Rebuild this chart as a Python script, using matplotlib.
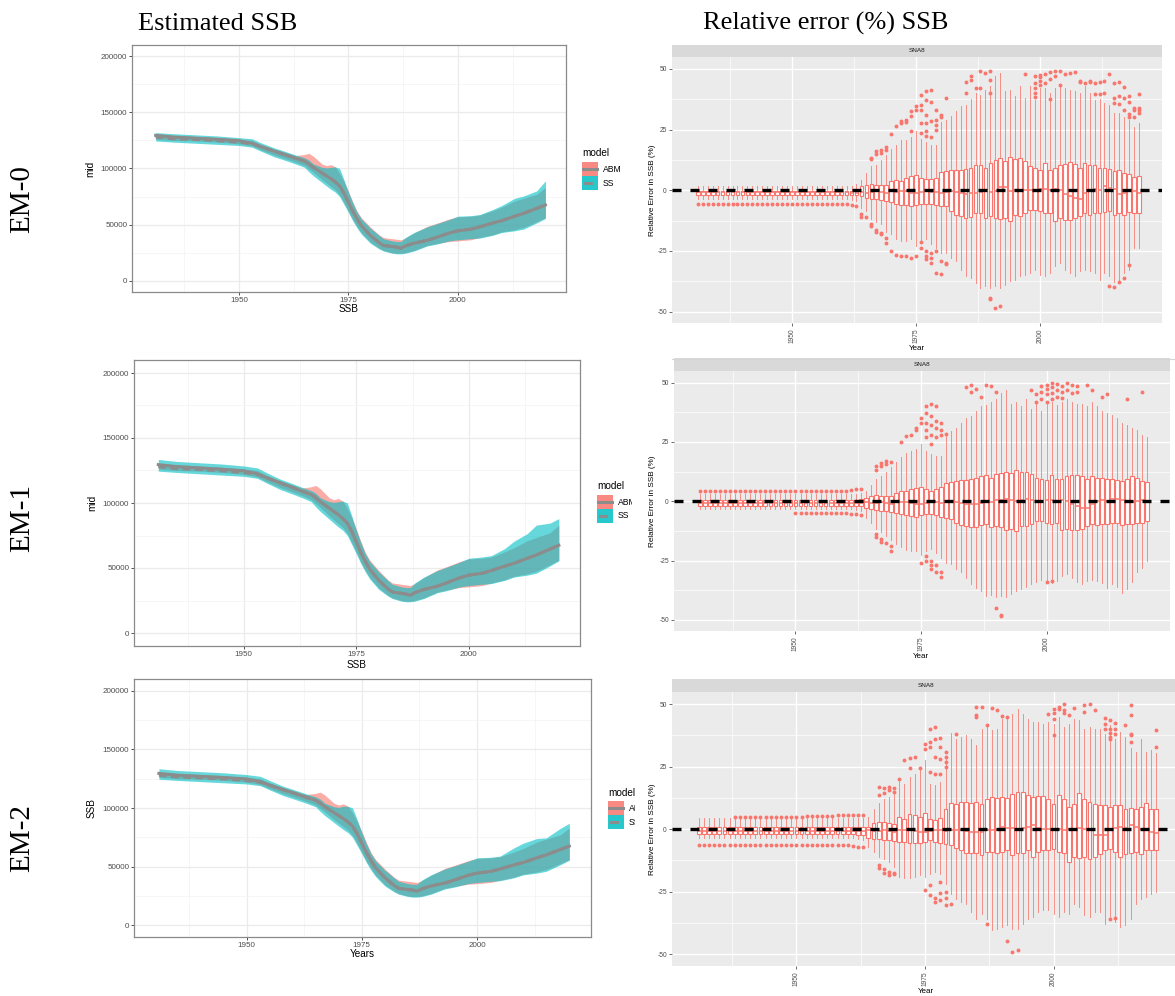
import matplotlib
matplotlib.use("Agg")
import matplotlib.pyplot as plt
from matplotlib.patches import Rectangle
from matplotlib.lines import Line2D
from matplotlib.transforms import Bbox, TransformedBbox

W, H = 1175, 996
plt.rcParams['font.family'] = ['Liberation Sans', 'DejaVu Sans']

# ---------------- Left panels: estimated SSB ----------------
years_L = [1931, 1935, 1940, 1945, 1950, 1953, 1955, 1958, 1960, 1963, 1965, 1966, 1967,
           1969, 1970, 1971, 1972, 1973, 1974, 1975, 1976, 1977, 1978, 1980, 1982, 1983,
           1985, 1986, 1987, 1988, 1990, 1993, 1995, 1998, 2000, 2003, 2005, 2008, 2010,
           2013, 2015, 2018, 2020]
abm_mid = [129500, 128000, 127000, 126000, 124800, 122500, 119500, 115500, 113000, 109000,
           106500, 104000, 101000, 96000, 93500, 91000, 88000, 84500, 78000, 70000, 62000,
           55000, 49000, 40500, 34000, 31500, 30500, 30000, 29000, 31000, 33500, 36000,
           38500, 42500, 44500, 46000, 48000, 51500, 53500, 57500, 60000, 64500, 67500]
ss_mid = [128000, 126500, 125800, 124800, 123500, 122000, 119500, 115500, 113000, 109000,
          106500, 104000, 101000, 96000, 93500, 91000, 88000, 84500, 78000, 70000, 62000,
          55000, 49000, 40500, 34000, 31500, 30500, 30000, 29000, 31000, 33500, 36000,
          38500, 42500, 44500, 46000, 48000, 51500, 53500, 57500, 60000, 64500, 67500]
abm_lo = [126000, 125000, 124500, 123500, 122000, 120000, 116500, 112000, 109500, 105500,
          102500, 99500, 96500, 90000, 87000, 84000, 81000, 76500, 69500, 62000, 54500,
          48000, 42500, 34500, 29000, 27000, 25000, 24500, 24500, 25000, 27000, 31500,
          33000, 35000, 35500, 36500, 38500, 41000, 43500, 45500, 47500, 52500, 56000]
abm_hi = [130500, 129500, 128500, 127500, 126000, 125000, 121500, 117500, 115000, 111500,
          112500, 113500, 111000, 104000, 102500, 103500, 101500, 96000, 88500, 80000, 70500,
          62000, 56000, 48000, 41000, 38500, 37500, 37000, 36500, 38000, 42500, 48500,
          51000, 55000, 57000, 57500, 58500, 62500, 65500, 71000, 73500, 77000, 83000]
ss_lo = [124500, 123500, 122500, 121500, 120500, 119000, 115500, 110500, 108000, 104000,
         101000, 97000, 93500, 87500, 84500, 81500, 79000, 75000, 68000, 61000, 53500,
         47000, 41500, 33500, 28500, 26500, 24500, 24000, 24000, 24500, 26500, 31000,
         32500, 35500, 36500, 37500, 38000, 40500, 43000, 44500, 46000, 51500, 55500]
ss_hi_em0 = [132000, 131000, 130000, 129000, 127500, 126500, 123000, 118500, 116000, 112000,
             109500, 107500, 104000, 101000, 100500, 101000, 101500, 100000, 90000, 79000,
             69500, 61000, 55000, 47000, 40500, 37500, 35500, 35000, 35000, 38500, 43000,
             48000, 50500, 54500, 57500, 58000, 59000, 63500, 67000, 73500, 75500, 80000, 89000]
ss_hi_em1 = [133500, 132000, 131000, 130000, 128500, 127000, 123500, 118500, 116000, 112000,
             109500, 107500, 104000, 101000, 100500, 101000, 101500, 100000, 90000, 79000,
             69500, 61000, 55000, 47000, 40500, 37500, 35500, 35000, 35000, 38500, 43000,
             48000, 50500, 54500, 57500, 58500, 59500, 65000, 70500, 76500, 83000, 84500, 88000]
ss_hi_em2 = [133500, 132000, 131000, 130000, 128500, 127000, 123500, 118500, 116000, 112000,
             109500, 107500, 104000, 101000, 100500, 101500, 101500, 100000, 90000, 79000,
             69500, 61000, 55000, 47000, 40500, 37500, 35500, 35000, 35000, 38500, 43000,
             48000, 50500, 54500, 57500, 58000, 59000, 66000, 70000, 74000, 74500, 82500, 87000]

# ---------------- Right panels: relative error boxplots ----------------
years_box = list(range(1931, 2021))

q1_em0 = [-1.8, -1.8, -1.8, -1.8, -1.8, -1.8, -1.8, -1.8, -1.8, -1.8,
          -1.8, -1.8, -1.8, -1.8, -1.8, -1.8, -1.8, -1.8, -1.8, -1.8,
          -1.8, -1.8, -1.8, -1.8, -1.8, -1.8, -1.8, -1.8, -1.8, -1.8,
          -1.8, -1.9, -2.0,
          -2.5, -3.2, -3.5, -3.8, -4.2, -4.5, -5.0,
          -5.5, -6.0, -6.0, -6.6, -6.0, -5.8, -5.5, -5.8, -6.0, -6.3,
          -6.6, -8.7, -10.0, -10.7, -11.4, -11.0, -9.3, -9.5, -11.4, -10.7,
          -11.4, -12.0, -11.4, -12.8, -10.0, -10.7, -9.3, -8.0, -8.0, -8.7,
          -9.3, -9.3, -12.8, -11.4, -12.1, -12.1, -11.4, -10.7, -9.3, -10.0,
          -9.3, -9.3, -9.0, -8.7, -10.0, -9.3, -10.0, -9.0, -9.5, -9.5]
med_em0 = [-0.9, -0.9, -0.9, -0.9, -0.9, -0.9, -0.9, -0.9, -0.9, -0.9,
           -0.9, -0.9, -0.9, -0.9, -0.9, -0.9, -0.9, -0.9, -0.9, -0.9,
           -0.9, -0.9, -0.9, -0.9, -0.9, -0.9, -0.9, -0.9, -0.9, -0.9,
           -0.9, -1.0, -1.0,
           -0.8, -1.0, -0.8, -0.5, -0.8, -1.0, -0.5,
           -0.7, -0.5, -0.5, -1.0, -1.0, -0.8, -0.5, -0.6, -0.8, -1.0,
           -0.8, -0.5, -0.8, -1.0, -1.5, -1.2, -1.0, -0.8, -0.5, -0.8,
           -0.3, 1.5, 1.2, -0.5, 0.0, 0.2, 0.0, 0.0, 0.2, 0.5,
           0.5, 0.3, 0.5, 0.0, -1.5, -2.5, -3.0, -3.5, -1.0, 0.0,
           0.5, 0.0, 1.8, 1.0, 0.5, -1.5, -1.0, 0.0, -0.5, -1.0]
q3_em0 = [-0.3, -0.3, -0.3, -0.3, -0.3, -0.3, -0.3, -0.3, -0.3, -0.3,
          -0.3, -0.3, -0.3, -0.3, -0.3, -0.3, -0.3, -0.3, -0.3, -0.3,
          -0.3, -0.3, -0.3, -0.3, -0.3, -0.3, -0.3, -0.3, -0.3, -0.3,
          -0.3, -0.2, 0.0,
          1.6, 2.3, 2.5, 2.3, 2.2, 2.0, 3.7,
          4.4, 4.0, 5.0, 5.8, 6.2, 5.0, 4.5, 4.8, 5.0, 7.5,
          8.0, 8.4, 8.2, 8.5, 8.8, 9.2, 10.2, 10.6, 9.2, 11.3,
          12.6, 13.3, 12.0, 13.7, 12.9, 13.3, 12.0, 9.9, 9.2, 8.5,
          11.3, 8.5, 9.2, 10.3, 10.9, 11.5, 11.0, 9.2, 11.3, 10.6,
          10.2, 9.2, 9.2, 8.8, 7.8, 8.2, 7.1, 6.5, 5.5, 6.0]
lo_em0 = [-3.8, -3.8, -3.8, -3.8, -3.8, -3.8, -3.8, -3.8, -3.8, -3.8,
          -3.8, -3.8, -3.8, -3.8, -3.8, -3.8, -3.8, -3.8, -3.8, -3.8,
          -3.8, -3.8, -3.8, -3.8, -3.8, -3.8, -3.8, -3.8, -3.8, -3.8,
          -3.8, -4.0, -4.5,
          -7.3, -8.7, -12.0, -13.0, -14.0, -17.0, -18.0,
          -20.0, -21.0, -21.0, -20.0, -23.0, -21.0, -20.0, -22.0, -24.0, -26.0,
          -25.8, -28.0, -29.0, -32.7, -35.4, -36.0, -38.2, -40.2, -39.6, -40.2,
          -39.6, -40.2, -38.9, -37.5, -36.8, -35.5, -34.8, -34.0, -32.7, -34.8,
          -35.5, -34.2, -31.3, -29.9, -32.7, -34.0, -35.4, -33.3, -32.7, -33.3,
          -34.0, -36.8, -34.0, -35.4, -38.0, -36.8, -34.0, -32.7, -23.8, -24.0]
hi_em0 = [1.6, 1.6, 1.6, 1.6, 1.6, 1.6, 1.6, 1.6, 1.6, 1.6,
          1.6, 1.6, 1.6, 1.6, 1.6, 1.6, 1.6, 1.6, 1.6, 1.6,
          1.6, 1.6, 1.6, 1.6, 1.6, 1.6, 1.6, 1.6, 1.6, 1.6,
          1.6, 1.8, 2.5,
          4.4, 7.0, 10.0, 10.6, 12.6, 14.7, 16.8,
          18.8, 20.9, 20.9, 22.0, 24.3, 21.0, 20.0, 18.8, 18.5, 28.0,
          29.0, 30.5, 32.5, 34.6, 35.3, 37.4, 40.0, 39.4, 41.5, 42.9,
          47.0, 48.4, 40.8, 41.5, 38.8, 43.0, 38.0, 42.9, 37.0, 42.0,
          42.0, 40.0, 42.0, 43.0, 42.0, 41.5, 40.8, 40.0, 42.9, 40.0,
          37.0, 37.4, 36.0, 35.0, 32.0, 32.0, 30.0, 29.0, 26.0, 27.5]
out_x_em0 = [1931, 1932, 1933, 1934, 1935, 1936, 1937, 1938, 1939, 1940, 1941, 1942, 1943,
             1944, 1945, 1946, 1947, 1948, 1949, 1950, 1951, 1952, 1953, 1954, 1955, 1956,
             1957, 1958, 1959, 1960, 1961, 1962, 1963,
             1964, 1964, 1965, 1966, 1966, 1966, 1966, 1967, 1967, 1967, 1967, 1968, 1968,
             1968, 1968, 1969, 1969, 1969, 1969, 1970, 1970, 1971, 1971, 1972, 1972, 1972,
             1973, 1973, 1973, 1974, 1974, 1974, 1974, 1975, 1975, 1975,
             1976, 1976, 1976, 1976, 1976, 1976, 1976, 1977, 1977, 1977, 1977, 1977, 1977,
             1977, 1977, 1977, 1978, 1978, 1978, 1978, 1978, 1978, 1978, 1979, 1979, 1979,
             1979, 1979, 1979, 1980, 1980, 1980, 1980, 1981, 1981, 1981,
             1985, 1985, 1986, 1986, 1987, 1988, 1988, 1989, 1990, 1990, 1990, 1990, 1990,
             1991, 1992, 1997, 1999, 1999, 1999, 1999, 1999, 2000, 2000, 2000, 2000, 2001,
             2001, 2002, 2002, 2002, 2003, 2003, 2004, 2004, 2005, 2006, 2007, 2008, 2008,
             2009, 2010, 2010, 2011, 2011, 2012, 2012, 2013, 2013, 2014, 2014, 2015, 2015,
             2015, 2015, 2016, 2016, 2016, 2016, 2017, 2017, 2017, 2017, 2018, 2018, 2018,
             2018, 2018, 2019, 2019, 2019, 2020, 2020, 2020, 2020]
out_y_em0 = [-5.5, -5.5, -5.5, -5.5, -5.5, -5.5, -5.5, -5.5, -5.5, -5.5, -5.5, -5.5, -5.5,
             -5.5, -5.5, -5.5, -5.5, -5.5, -5.5, -5.5, -5.5, -5.5, -5.5, -5.5, -5.5, -5.5,
             -5.5, -5.5, -5.5, -5.5, -5.8, -6.0, -6.5,
             -9.6, -11.0, -11.0, 13.3, 12.8, -14.0, -14.7, 16.0, 15.0, -16.5, -17.0, 16.5, 15.5,
             -17.5, -18.0, 18.0, 16.5, -21.7, -19.5, 23.0, -25.0, 26.4, -26.5, 27.6, 28.5, -27.0,
             29.0, 28.0, -27.2, 32.5, 30.5, 24.3, -27.9, 34.6, 33.0, -27.0,
             39.4, 35.3, 33.0, 27.7, 23.5, -21.4, -23.8, 40.8, 37.0, 31.0, 27.7, 24.3, 22.5,
             -25.0, -27.0, -28.5, 41.5, 36.5, 28.5, 22.0, -26.0, -28.0, -30.0, 33.0, 29.0, 27.0,
             25.0, -25.0, -34.2, 31.0, 30.0, -29.0, -34.5, 38.0, -30.0, -30.5,
             40.0, 44.5, 45.5, 47.0, 42.0, 49.0, 42.0, 48.5, 49.0, 45.5, 40.0, -44.4, -45.0,
             -48.5, -47.8, 47.7, 47.0, 44.0, 42.0, 40.0, 38.5, 47.5, 46.5, 45.0, 43.5, 47.7,
             44.0, 48.8, 46.0, 37.4, 49.3, 47.0, 49.2, 43.5, 48.0, 48.5, 48.6, 45.0, 44.5,
             44.0, 45.0, 44.5, 39.5, 44.0, 44.7, 39.5, 45.0, 40.0, 48.0, -39.5, 44.0, 38.0,
             36.0, -40.0, 44.5, 39.0, 35.5, -38.0, 42.5, 38.0, 33.0, -36.0, 39.0, 36.5, 31.5,
             30.0, -31.0, 34.0, 33.0, 30.0, 39.5, 34.0, 33.0, 32.0]

q1_em1 = [-1.8, -1.8, -1.8, -1.8, -1.8, -1.8, -1.8, -1.8, -1.8, -1.8,
          -1.8, -1.8, -1.8, -1.8, -1.8, -1.8, -1.8, -1.8, -1.8, -1.8,
          -1.8, -1.8, -1.8, -1.8, -1.8, -1.8, -1.8, -1.8, -1.8, -1.8,
          -1.8, -1.9, -2.0,
          -2.8, -3.3, -3.6, -4.0, -4.3, -4.6, -5.0,
          -5.3, -5.8, -6.2, -6.5, -6.0, -5.5, -5.5, -6.0, -6.5, -7.0,
          -7.5, -9.0, -10.0, -10.5, -11.0, -11.0, -10.0, -9.5, -11.0, -10.5,
          -11.0, -12.0, -11.5, -12.5, -10.5, -10.5, -9.5, -8.5, -8.5, -9.0,
          -9.5, -9.0, -12.0, -11.5, -12.0, -12.0, -11.5, -10.5, -9.5, -10.0,
          -9.5, -9.5, -9.0, -9.0, -10.0, -9.5, -9.5, -9.0, -9.0, -8.5]
med_em1 = [-0.8, -0.8, -0.8, -0.8, -0.8, -0.8, -0.8, -0.8, -0.8, -0.8,
           -0.8, -0.8, -0.8, -0.8, -0.8, -0.8, -0.8, -0.8, -0.8, -0.8,
           -0.8, -0.8, -0.8, -0.8, -0.8, -0.8, -0.8, -0.8, -0.8, -0.8,
           -0.8, -0.8, -0.8,
           -0.5, -0.8, -0.8, -0.5, -0.8, -1.0, -0.5,
           -0.5, -0.5, -0.8, -1.0, -1.0, -0.8, -0.5, -0.5, -0.8, -0.5,
           -0.5, -0.5, -0.8, -1.0, -1.2, -1.0, -0.8, -0.5, -0.5, 0.5,
           0.5, 1.0, 0.5, 0.0, 0.5, 1.0, 0.5, 0.0, 0.0, 0.5,
           0.5, 0.0, 0.5, 0.0, -1.0, -2.0, -3.0, -3.0, -1.0, 0.0,
           0.5, 0.0, 1.0, 1.0, 0.5, 0.0, -0.5, 0.0, 0.5, 0.0]
q3_em1 = [0.5, 0.5, 0.5, 0.5, 0.5, 0.5, 0.5, 0.5, 0.5, 0.5,
          0.5, 0.5, 0.5, 0.5, 0.5, 0.5, 0.5, 0.5, 0.5, 0.5,
          0.5, 0.5, 0.5, 0.5, 0.5, 0.5, 0.5, 0.5, 0.5, 0.5,
          0.5, 0.6, 0.8,
          1.5, 2.2, 2.5, 2.3, 2.2, 2.2, 3.5,
          4.2, 4.5, 5.0, 5.5, 6.0, 5.0, 4.5, 5.0, 6.0, 7.5,
          8.0, 8.5, 9.0, 9.0, 9.5, 10.0, 10.5, 11.0, 10.0, 11.5,
          12.0, 12.5, 12.0, 13.0, 12.5, 12.5, 11.5, 10.0, 9.5, 9.0,
          11.0, 9.5, 9.5, 10.5, 11.0, 11.0, 10.5, 9.5, 10.5, 10.0,
          10.0, 9.5, 9.5, 9.0, 8.5, 9.5, 10.5, 10.0, 8.5, 8.0]
lo_em1 = [-3.2, -3.2, -3.2, -3.2, -3.2, -3.2, -3.2, -3.2, -3.2, -3.2,
          -3.2, -3.2, -3.2, -3.2, -3.2, -3.2, -3.2, -3.2, -3.2, -3.2,
          -3.2, -3.2, -3.2, -3.2, -3.2, -3.2, -3.2, -3.2, -3.2, -3.2,
          -3.2, -3.5, -4.0,
          -7.0, -9.0, -11.5, -13.0, -14.5, -16.5, -18.0,
          -19.5, -20.5, -21.0, -21.0, -22.5, -21.0, -20.0, -22.0, -24.0, -26.0,
          -26.5, -28.5, -30.0, -32.5, -35.0, -36.5, -38.0, -40.0, -39.5, -40.5,
          -40.0, -40.5, -39.0, -38.0, -37.0, -36.0, -35.0, -34.0, -33.0, -33.5,
          -34.5, -33.5, -31.5, -30.5, -32.5, -34.0, -35.0, -33.5, -33.0, -33.5,
          -34.5, -36.5, -35.0, -36.0, -38.5, -37.0, -34.0, -30.0, -28.0, -25.0]
hi_em1 = [3.0, 3.0, 3.0, 3.0, 3.0, 3.0, 3.0, 3.0, 3.0, 3.0,
          3.0, 3.0, 3.0, 3.0, 3.0, 3.0, 3.0, 3.0, 3.0, 3.0,
          3.0, 3.0, 3.0, 3.0, 3.0, 3.0, 3.0, 3.0, 3.0, 3.0,
          3.0, 3.2, 3.5,
          4.5, 7.0, 9.5, 10.5, 12.5, 14.5, 16.5,
          18.5, 20.5, 21.0, 22.0, 24.0, 21.0, 20.0, 19.0, 19.0, 28.0,
          29.5, 31.0, 33.0, 35.0, 36.0, 38.0, 40.0, 40.5, 42.0, 43.0,
          45.5, 47.0, 41.0, 42.0, 40.0, 43.0, 39.0, 42.0, 38.0, 41.0,
          42.0, 40.5, 42.0, 43.0, 42.0, 41.0, 41.0, 40.0, 42.0, 40.0,
          38.0, 37.0, 36.5, 35.0, 33.0, 32.0, 31.0, 30.0, 28.0, 27.0]
out_x_em1 = [1931, 1932, 1933, 1934, 1935, 1936, 1937, 1938, 1939, 1940, 1941, 1942, 1943,
             1944, 1945, 1946, 1947, 1948, 1949, 1950, 1951, 1952, 1953, 1954, 1955, 1956,
             1957, 1958, 1959, 1960, 1961, 1962, 1963,
             1950, 1951, 1952, 1953, 1954, 1955, 1956, 1957, 1958, 1959, 1960, 1961, 1962, 1963,
             1966, 1966, 1966, 1966, 1967, 1967, 1967, 1967, 1968, 1968, 1968, 1969, 1969, 1969,
             1971, 1972, 1973, 1974, 1974, 1975, 1975, 1975, 1976, 1976, 1976, 1976, 1976, 1976,
             1976, 1977, 1977, 1977, 1977, 1977, 1977, 1977, 1977, 1978, 1978, 1978, 1978, 1978,
             1978, 1979, 1979, 1979, 1979, 1979, 1980,
             1984, 1985, 1985, 1986, 1987, 1988, 1989, 1990, 1990, 1991, 1991,
             1997, 1998, 1998, 1999, 1999, 1999, 2000, 2000, 2000, 2000, 2000, 2001, 2001, 2001,
             2001, 2001, 2002, 2002, 2002, 2003, 2003, 2003, 2004, 2004, 2005, 2005, 2006, 2006,
             2008, 2009, 2011, 2012, 2016, 2019]
out_y_em1 = [4.5, 4.5, 4.5, 4.5, 4.5, 4.5, 4.5, 4.5, 4.5, 4.5, 4.5, 4.5, 4.5,
             4.5, 4.5, 4.5, 4.5, 4.5, 4.5, 4.5, 4.5, 4.5, 4.5, 4.5, 4.5, 4.5,
             4.5, 4.5, 4.5, 4.5, 4.8, 5.0, 5.2,
             -5.0, -5.0, -5.0, -5.0, -5.0, -5.0, -5.0, -5.0, -5.0, -5.0, -5.0, -5.2, -5.5, -5.8,
             13.0, 15.0, -14.0, -15.0, 16.0, 15.0, -16.0, -17.0, 17.0, 15.5, -17.5, 16.5, -19.0, -21.0,
             25.0, 27.5, 28.0, 31.0, 30.0, 33.0, 35.0, -26.0, 40.0, 37.0, 33.0, 30.0, 27.0, -23.0,
             -25.0, 41.0, 36.0, 32.0, 28.0, 24.0, -25.0, -27.0, -28.5, 40.0, 34.0, 31.0, 27.0, -27.0,
             -30.0, 33.0, 30.0, 28.0, -30.0, -32.0, 28.5,
             48.0, 49.0, 46.0, 47.5, 44.0, 49.0, 48.5, 46.0, -45.0, -47.8, -48.3,
             47.0, 45.0, 42.0, 48.5, 46.0, 43.0, 49.0, 47.5, 45.0, 42.0, -34.0, 50.0, 48.0, 45.5,
             43.0, -33.5, 49.5, 47.0, 44.0, 48.5, 46.0, 43.5, 49.8, 47.0, 49.0, 45.5, 48.5, 46.0,
             49.0, 47.0, 44.0, 45.0, 43.0, 46.0]

q1_em2 = [-2.0, -2.0, -2.0, -2.0, -2.0, -2.0, -2.0, -2.0, -2.0, -2.0,
          -2.0, -2.0, -2.0, -2.0, -2.0, -2.0, -2.0, -2.0, -2.0, -2.0,
          -2.0, -2.0, -2.0, -2.0, -2.0, -2.0, -2.0, -2.0, -2.0, -2.0,
          -2.0, -2.2, -2.5,
          -3.7, -4.0, -4.0, -4.2, -4.5, -4.8, -5.0,
          -5.2, -5.5, -5.5, -5.5, -5.0, -4.5, -5.0, -5.5, -6.0, -6.4,
          -7.5, -8.5, -9.7, -9.5, -9.7, -10.5, -9.0, -9.0, -9.5, -9.0,
          -8.5, -10.5, -9.7, -9.7, -8.5, -11.0, -9.0, -8.4, -8.5, -8.0,
          -9.0, -9.5, -13.0, -11.0, -11.7, -11.0, -12.0, -11.0, -10.0, -8.4,
          -8.0, -9.0, -11.0, -10.0, -9.5, -9.0, -10.0, -8.5, -8.4, -8.4]
med_em2 = [-0.8, -0.8, -0.8, -0.8, -0.8, -0.8, -0.8, -0.8, -0.8, -0.8,
           -0.8, -0.8, -0.8, -0.8, -0.8, -0.8, -0.8, -0.8, -0.8, -0.8,
           -0.8, -0.8, -0.8, -0.8, -0.8, -0.8, -0.8, -0.8, -0.8, -0.8,
           -0.8, -0.8, -0.8,
           -0.5, -0.8, -0.8, -0.5, -0.8, -1.0, -0.5,
           -0.5, -0.5, -0.8, -1.0, -1.0, -0.8, -0.5, -0.5, -0.8, -0.5,
           -0.5, -0.5, -0.8, -1.0, -1.0, -1.2, -0.5, -0.5, -0.5, 1.0,
           0.5, 0.5, 0.0, 0.5, 1.0, 1.5, 0.5, 0.0, 0.0, 0.0,
           0.0, -0.5, 0.0, 0.0, 0.5, 0.0, 0.0, -2.3, -2.3, -2.3,
           0.0, 0.5, 1.0, 0.5, 1.5, 1.0, 0.0, -0.5, -1.0, -1.5]
q3_em2 = [1.0, 1.0, 1.0, 1.0, 1.0, 1.0, 1.0, 1.0, 1.0, 1.0,
          1.0, 1.0, 1.0, 1.0, 1.0, 1.0, 1.0, 1.0, 1.0, 1.0,
          1.0, 1.0, 1.0, 1.0, 1.0, 1.0, 1.0, 1.0, 1.0, 1.0,
          1.0, 1.0, 1.0,
          1.0, 2.5, 3.0, 2.8, 2.5, 2.2, 5.0,
          4.0, 6.0, 5.5, 5.0, 6.4, 4.0, 3.5, 4.5, 8.0, 10.4,
          10.0, 11.0, 11.0, 10.5, 11.0, 10.0, 12.0, 13.0, 12.5, 13.0,
          12.5, 14.0, 15.0, 15.0, 13.5, 13.0, 13.3, 13.3, 12.0, 10.0,
          13.5, 12.0, 9.0, 10.0, 14.4, 12.0, 11.0, 10.0, 9.5, 9.7,
          9.0, 9.5, 9.5, 8.0, 8.5, 8.0, 9.0, 10.4, 8.0, 8.0]
lo_em2 = [-3.5, -3.5, -3.5, -3.5, -3.5, -3.5, -3.5, -3.5, -3.5, -3.5,
          -3.5, -3.5, -3.5, -3.5, -3.5, -3.5, -3.5, -3.5, -3.5, -3.5,
          -3.5, -3.5, -3.5, -3.5, -3.5, -3.5, -3.5, -3.5, -3.5, -3.5,
          -3.5, -3.8, -4.2,
          -7.0, -9.0, -11.0, -12.0, -13.0, -15.0, -19.0,
          -19.5, -19.5, -19.0, -18.5, -19.0, -18.0, -17.0, -18.0, -22.0, -26.0,
          -28.0, -29.0, -29.8, -33.0, -35.8, -34.0, -36.0, -40.5, -40.0, -39.0,
          -38.5, -40.0, -39.8, -38.0, -36.0, -35.0, -33.0, -32.5, -32.5, -34.0,
          -35.0, -33.0, -34.0, -30.0, -31.0, -34.5, -35.0, -33.0, -33.0, -37.8,
          -36.0, -37.0, -39.0, -38.5, -36.0, -30.0, -28.0, -27.0, -26.0, -25.0]
hi_em2 = [4.4, 4.4, 4.4, 4.4, 4.4, 4.4, 4.4, 4.4, 4.4, 4.4,
          4.4, 4.4, 4.4, 4.4, 4.4, 4.4, 4.4, 4.4, 4.4, 4.4,
          4.4, 4.4, 4.4, 4.4, 4.4, 4.4, 4.4, 4.4, 4.4, 4.4,
          4.4, 4.4, 4.4,
          5.0, 8.0, 10.5, 12.0, 13.0, 14.0, 20.4,
          18.0, 21.0, 22.0, 24.0, 27.8, 18.0, 17.5, 19.0, 29.0, 38.5,
          36.0, 37.0, 37.8, 36.0, 33.8, 40.0, 41.0, 39.8, 40.0, 44.0,
          44.0, 46.0, 47.9, 46.0, 44.0, 43.0, 43.0, 42.0, 43.0, 42.0,
          45.0, 41.0, 42.0, 44.0, 43.8, 40.0, 41.0, 40.0, 40.0, 38.0,
          41.8, 36.0, 39.0, 37.0, 32.5, 31.0, 36.0, 31.0, 31.8, 30.5]
out_x_em2 = [1931, 1932, 1933, 1934, 1935, 1936, 1937, 1938, 1939, 1940, 1941, 1942, 1943,
             1944, 1945, 1946, 1947, 1948, 1949, 1950, 1951, 1952, 1953, 1954, 1955, 1956,
             1957, 1958, 1959, 1960, 1961, 1962, 1963,
             1938, 1939, 1940, 1941, 1942, 1943, 1944, 1945, 1946, 1947, 1948, 1949, 1950,
             1951, 1952, 1953, 1954, 1955, 1956, 1957, 1958, 1959, 1960, 1961, 1962, 1963,
             1966, 1966, 1966, 1966, 1967, 1967, 1967, 1967, 1968, 1968, 1968, 1968, 1969, 1969,
             1969, 1969, 1970, 1971, 1972, 1972, 1973, 1974, 1975, 1975, 1975, 1976, 1976, 1976,
             1976, 1976, 1976, 1977, 1977, 1977, 1977, 1977, 1977, 1978, 1978, 1978, 1978, 1978,
             1978, 1978, 1979, 1979, 1979, 1979, 1979, 1979, 1979, 1980, 1981,
             1985, 1985, 1985, 1986, 1987, 1987, 1988, 1989, 1990, 1991, 1991, 1992, 1993,
             1999, 2000, 2000, 2000, 2000, 2001, 2001, 2002, 2002, 2002, 2003, 2004, 2006, 2006,
             2007, 2008, 2010, 2010, 2010, 2011, 2011, 2011, 2011, 2011, 2011, 2012, 2012, 2012,
             2012, 2014, 2015, 2015, 2015, 2015, 2015, 2020, 2020]
out_y_em2 = [-6.5, -6.5, -6.5, -6.5, -6.5, -6.5, -6.5, -6.5, -6.5, -6.5, -6.5, -6.5, -6.5,
             -6.5, -6.5, -6.5, -6.5, -6.5, -6.5, -6.5, -6.5, -6.5, -6.5, -6.5, -6.5, -6.5,
             -6.5, -6.5, -6.5, -6.5, -6.8, -7.0, -7.3,
             5.0, 5.0, 5.0, 5.0, 5.0, 5.0, 5.0, 5.0, 5.0, 5.0, 5.0, 5.0, 5.0,
             5.0, 5.2, 5.2, 5.2, 5.4, 5.4, 5.4, 5.5, 5.5, 5.6, 5.6, 5.8, 5.8,
             13.5, 16.8, -14.5, -15.5, 16.5, 14.5, -16.0, -17.5, 17.0, 15.5, -17.0, -18.4, 16.5,
             15.0, -18.0, -17.5, 20.0, 27.5, 28.5, 24.5, 29.0, 24.5, 34.0, 32.0, -24.5, 40.0,
             35.0, 33.0, 23.0, -26.5, -22.5, 40.8, 36.0, 29.0, 22.0, -27.5, -29.0, 36.5, 33.0,
             28.0, 22.0, -21.0, -25.5, -28.5, 31.0, 29.0, 27.0, 25.0, -25.0, -27.5, -30.5, -29.8,
             38.0,
             48.8, 45.8, 44.8, 49.0, 41.8, -38.0, 48.5, 47.8, 45.2, 45.0, -44.8, -49.0, -48.3,
             46.0, 47.9, 46.5, 44.0, 37.8, 49.0, 48.0, 50.0, 47.8, 46.5, 45.5, 48.5, 49.5, 47.0,
             50.0, 47.5, 44.5, 42.0, 40.0, 43.5, 40.0, 38.5, 37.0, 36.0, -35.8, 42.5, 40.0, 38.0,
             -35.5, 41.5, 49.8, 45.8, 38.0, 37.5, 35.0, 39.8, 33.0]

left_yticks = [0, 50000, 100000, 150000, 200000]
left_xticks = [1950, 1975, 2000]
right_yticks = [-50, -25, 0, 25, 50]
right_xticks = [1950, 1975, 2000]

col_titles = ["Estimated SSB", "Relative error (%) SSB"]
row_labels = ["EM-0", "EM-1", "EM-2"]
legend_labels = ["ABM", "SS"]

SAL = "#F8766D"
CYA = "#00BFC4"
MIDC = "#8C8C8C"

fig = plt.figure(figsize=(W / 100, H / 100), dpi=100)


def fx(x):
    return x / W


def fy(y):
    return 1 - y / H


def add_ax(l, t, r, b):
    return fig.add_axes([l / W, 1 - b / H, (r - l) / W, (b - t) / H])


left_geo = [(132, 45, 566, 292), (134, 360, 580, 646), (134, 679, 591, 937)]
left_ylab = ["mid", "mid", "SSB"]
left_xlab = ["SSB", "SSB", "Years"]
left_ylab_x = [90, 92, 92]
left_xlab_y = [309, 665, 954]
left_leg = [(582, 153, 162), (597, 486, 495), (608, 793, 801)]
left_clip = [None, 632, 635]
ss_hi_rows = [ss_hi_em0, ss_hi_em1, ss_hi_em2]

for i in range(3):
    l, t, r, b = left_geo[i]
    ax = add_ax(l, t, r, b)
    ax.set_xlim(1925.6, 2024.7)
    ax.set_ylim(-10000, 210000)
    ax.set_xticks(left_xticks)
    ax.set_xticklabels([str(v) for v in left_xticks])
    ax.set_xticks([1937.5, 1962.5, 1987.5, 2012.5], minor=True)
    ax.set_yticks(left_yticks)
    ax.set_yticklabels([str(v) for v in left_yticks])
    ax.set_yticks([25000, 75000, 125000, 175000], minor=True)
    ax.grid(True, which='major', color='#EBEBEB', lw=0.9)
    ax.grid(True, which='minor', color='#F3F3F3', lw=0.5)
    ax.set_axisbelow(True)
    ax.tick_params(which='major', length=2.2, width=0.6, color='#333333', labelsize=5.8,
                   labelcolor='#4D4D4D', pad=1.2)
    ax.tick_params(which='minor', length=0)
    for s in ax.spines.values():
        s.set_color('#8A8A8A')
        s.set_linewidth(0.9)
    ax.fill_between(years_L, abm_lo, abm_hi, color=SAL, alpha=0.6, lw=0)
    ax.fill_between(years_L, ss_lo, ss_hi_rows[i], color=CYA, alpha=0.6, lw=0)
    ax.plot(years_L, ss_mid, color=MIDC, lw=2.2, ls=(0, (2.5, 1.5)))
    ax.plot(years_L, abm_mid, color=MIDC, lw=2.2)
    fig.text(fx(left_ylab_x[i]), fy((t + b) / 2), left_ylab[i], rotation=90, fontsize=7.2,
             ha='center', va='center')
    fig.text(fx((l + r) / 2), fy(left_xlab_y[i]), left_xlab[i], fontsize=7.2,
             ha='center', va='center')
    # legend
    lx, ty, kt = left_leg[i]
    cb = None
    if left_clip[i] is not None:
        cb = TransformedBbox(Bbox.from_extents(0, 0, left_clip[i] / W, 1), fig.transFigure)
    texts = [fig.text(fx(lx), fy(ty), "model", fontsize=7.2, ha='left', va='center')]
    for k, (lab, col) in enumerate(zip(legend_labels, [SAL, CYA])):
        ktop = kt + k * 14
        fig.add_artist(Rectangle((fx(lx), fy(ktop + 14)), 16 / W, 14 / H,
                                 transform=fig.transFigure, facecolor=col, alpha=0.85, lw=0))
        if k == 0:
            fig.add_artist(Line2D([fx(lx + 1), fx(lx + 15)], [fy(ktop + 7)] * 2,
                                  transform=fig.transFigure, color=MIDC, lw=2.2))
        else:
            fig.add_artist(Line2D([fx(lx + 3), fx(lx + 9)], [fy(ktop + 7)] * 2,
                                  transform=fig.transFigure, color=MIDC, lw=2.2))
        texts.append(fig.text(fx(lx + 21), fy(ktop + 7), lab, fontsize=6.2,
                              ha='left', va='center'))
    if cb is not None:
        for tx in texts:
            tx.set_clip_on(True)
            tx.set_clip_box(cb)

# ---------------- right panels ----------------
right_geo = [(672, 57, 1162, 323, 45), (674, 371, 1170, 631, 358), (672, 692, 1180, 966, 679)]
right_ylab_x = [652, 653, 652]
right_xlab_y = [348, 656, 991]
right_xlab_x = [917, 921, 926]
box_rows = [(q1_em0, med_em0, q3_em0, lo_em0, hi_em0, out_x_em0, out_y_em0),
            (q1_em1, med_em1, q3_em1, lo_em1, hi_em1, out_x_em1, out_y_em1),
            (q1_em2, med_em2, q3_em2, lo_em2, hi_em2, out_x_em2, out_y_em2)]

for i in range(3):
    l, t, r, b, st = right_geo[i]
    ax = add_ax(l, t, r, b)
    sax = add_ax(l, st, r, t)
    sax.set_facecolor('#D9D9D9')
    sax.set_xticks([])
    sax.set_yticks([])
    for s in sax.spines.values():
        s.set_visible(False)
    sax.text(0.5, 0.5, "SNA8", transform=sax.transAxes, fontsize=4.6, color='#1A1A1A',
             ha='center', va='center')
    q1, med, q3, lo, hi, ox, oy = box_rows[i]
    stats = []
    for j, yr in enumerate(years_box):
        fl = [oy[k] for k in range(len(ox)) if ox[k] == yr]
        stats.append(dict(med=med[j], q1=q1[j], q3=q3[j], whislo=lo[j], whishi=hi[j],
                          fliers=fl))
    ax.set_facecolor('#EBEBEB')
    ax.set_xlim(1925.8, 2024.6)
    ax.set_ylim(-54.7, 54.9)
    ax.set_xticks(right_xticks)
    ax.set_xticks([1937.5, 1962.5, 1987.5, 2012.5], minor=True)
    ax.set_yticks(right_yticks)
    ax.set_yticks([-37.5, -12.5, 12.5, 37.5], minor=True)
    ax.grid(True, which='major', color='white', lw=1.0)
    ax.grid(True, which='minor', color='white', lw=0.5)
    ax.set_axisbelow(True)
    ax.bxp(stats, positions=years_box, widths=0.75, patch_artist=True, showcaps=False,
           manage_ticks=False,
           boxprops=dict(facecolor='white', edgecolor=SAL, linewidth=0.8),
           whiskerprops=dict(color=SAL, linewidth=0.7, alpha=0.8),
           medianprops=dict(color=SAL, linewidth=1.1),
           flierprops=dict(marker='o', markerfacecolor=SAL, markeredgecolor='none',
                           markersize=2.8))
    ax.axhline(0, color='black', lw=2.4, ls=(0, (2.7, 2.7)), zorder=10)
    ax.set_xticklabels([str(v) for v in right_xticks], rotation=90)
    ax.set_yticklabels([str(v) for v in right_yticks])
    ax.tick_params(which='major', length=2.2, width=0.5, color='#333333', labelsize=4.8,
                   labelcolor='#4D4D4D', pad=1.5)
    ax.tick_params(which='minor', length=0)
    for s in ax.spines.values():
        s.set_visible(False)
    fig.text(fx(right_ylab_x[i]), fy((t + b) / 2), "Relative Error in SSB (%)", rotation=90,
             fontsize=5.9, ha='center', va='center')
    fig.text(fx(right_xlab_x[i]), fy(right_xlab_y[i]), "Year", fontsize=5.8,
             ha='center', va='center')

# thin line under first right panel
fig.add_artist(Line2D([fx(672), fx(1175)], [fy(359)] * 2, transform=fig.transFigure,
                      color='#D5D5D5', lw=0.8))

# column titles and row labels
fig.text(fx(138), fy(29.5), col_titles[0], fontsize=19, family='Liberation Serif',
         ha='left', va='baseline')
fig.text(fx(703), fy(29.5), col_titles[1], fontsize=19, family='Liberation Serif',
         ha='left', va='baseline')
for lab, yc in zip(row_labels, [199, 518, 838]):
    fig.text(fx(22), fy(yc), lab, rotation=90, fontsize=21, family='Liberation Serif',
             ha='center', va='center')

fig.savefig("out.png", dpi=100)
